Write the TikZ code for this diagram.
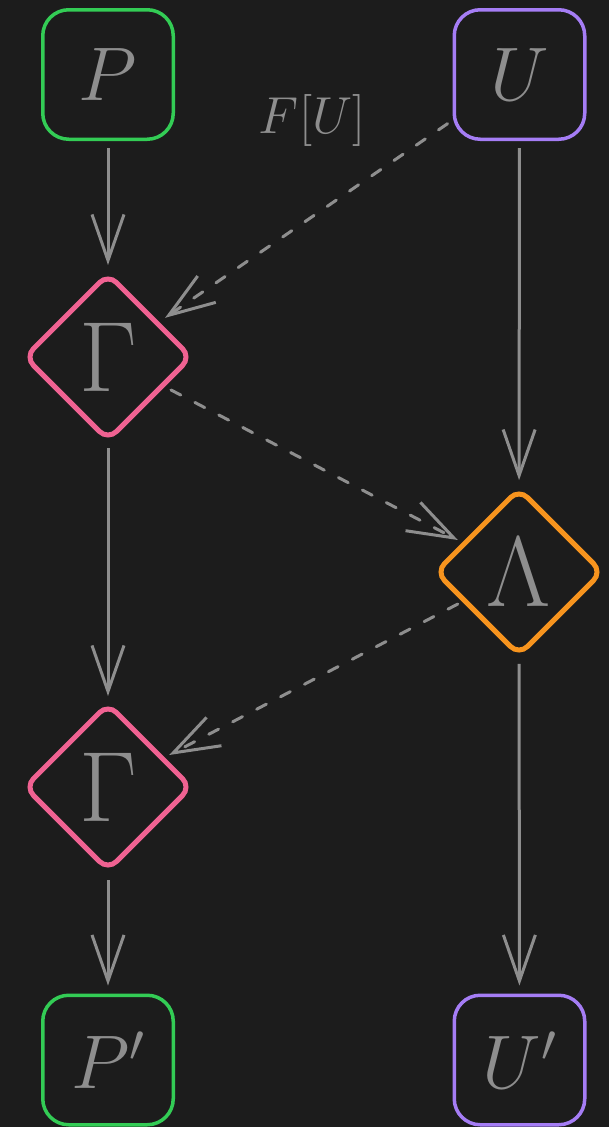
\RequirePackage{fix-cm}
\documentclass[tikz,border=0pt]{standalone}
\usetikzlibrary{shapes.geometric,arrows.meta}
\definecolor{bg}{HTML}{1C1C1C}
\definecolor{inkgray}{HTML}{8E8E8E}
\definecolor{stategreen}{HTML}{33CC55}
\definecolor{statepurple}{HTML}{A57DF5}
\definecolor{oppink}{HTML}{F06292}
\definecolor{oporange}{HTML}{F7941E}
\tikzset{
  statebox/.style={draw, line width=3.5pt, rounded corners=26pt,
    minimum width=130.5pt, minimum height=129.5pt, inner sep=0pt,
    text=inkgray, font=\fontsize{76}{76}\selectfont},
  opdiamond/.style={shape=diamond, draw, line width=5pt, rounded corners=12pt,
    aspect=1, minimum width=168pt, minimum height=168pt, inner sep=0pt,
    text=inkgray, font=\fontsize{100}{100}\selectfont},
  flow/.style={draw=inkgray, line width=3pt,
    -{Straight Barb[length=46pt, width=32pt]}},
  dep/.style={flow, dash pattern=on 11pt off 16pt, line cap=round,
    shorten <=6pt, shorten >=6pt}
}
\begin{document}
\begin{tikzpicture}[x=1pt, y=-1pt]
  \fill[bg] (0,0) rectangle (609,1127);
  \useasboundingbox (0,0) rectangle (609,1127);

  % states
  \node[statebox, draw=stategreen]  (P)  at (108,74.5)   {$P$};
  \node[statebox, draw=statepurple] (U)  at (519.5,74.5) {$U$};
  \node[statebox, draw=stategreen]  (P2) at (108,1060)   {$P'$};
  \node[statebox, draw=statepurple] (U2) at (519.5,1060) {$U'$};

  % operators
  \node[opdiamond, draw=oppink]   (G1) at (108,357) {$\Gamma$};
  \node[opdiamond, draw=oporange] (L)  at (519,572) {$\Lambda$};
  \node[opdiamond, draw=oppink]   (G2) at (108,787) {$\Gamma$};

  % label of the dependency from U
  \node[text=inkgray, inner sep=0pt, font=\fontsize{52}{52}\selectfont]
    (FU) at (312,121) {$F[U]$};

  % main flow
  \draw[flow, shorten <=7pt, shorten >=5.5pt] (P) -- (G1);
  \draw[flow, shorten <=7pt, shorten >=5.5pt] (U) -- (L);
  \draw[flow, shorten <=4.5pt, shorten >=4.5pt] (G1) -- (G2);
  \draw[flow, shorten <=5.5pt, shorten >=8pt] (L) -- (U2);
  \draw[flow, shorten <=6.5pt, shorten >=8pt] (G2) -- (P2);

  % dependencies
  \draw[dep, shorten >=7pt] (U) -- (G1);
  \draw[dep, shorten <=7pt, shorten >=5pt] (G1) -- (L);
  \draw[dep, shorten <=5pt, shorten >=5pt] (L) -- (G2);
\end{tikzpicture}
\end{document}
